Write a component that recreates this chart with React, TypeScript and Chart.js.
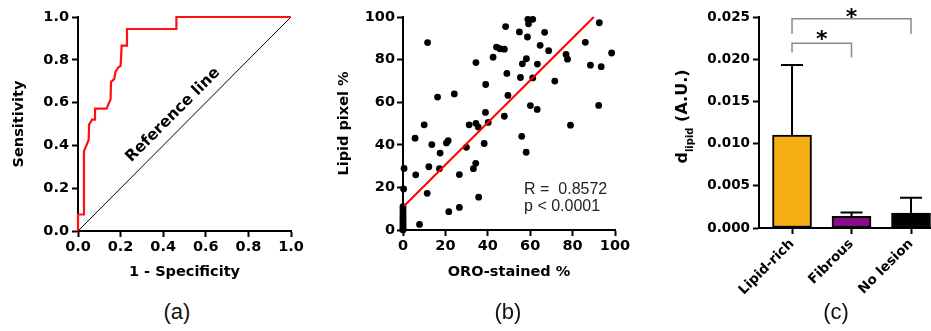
import React, { useEffect, useRef } from 'react';
import { Chart, registerables } from 'chart.js';

Chart.register(...registerables);

// ---------- data ----------
// (a) ROC curve
const rocFpr = [0, 0, 0.028, 0.028, 0.05, 0.052, 0.066, 0.08, 0.08, 0.134, 0.153, 0.155, 0.17, 0.176, 0.19, 0.2, 0.205, 0.23, 0.23, 0.462, 0.462, 1.0];
const rocTpr = [0, 0.077, 0.077, 0.373, 0.425, 0.497, 0.52, 0.52, 0.572, 0.572, 0.616, 0.697, 0.71, 0.745, 0.765, 0.772, 0.866, 0.866, 0.944, 0.944, 1.0, 1.0];
const refLineX = [0, 1];
const refLineY = [0, 1];
const rocTickStep = 0.2;

// (b) scatter
const scatterX = [
  11.6, 48.4, 58.9, 61.2, 59.2, 54.9, 66.8, 58.7, 44.1, 45.7, 47.8, 64.7, 68.7, 86.0, 92.6, 98.4,
  76.9, 77.6, 58.2, 56.3, 63.4, 88.4, 93.5, 42.5, 34.4, 49.0, 55.4, 61.2, 71.6, 39.0, 49.5, 24.2,
  16.3, 60.1, 63.3, 92.3, 38.9, 47.8, 79.0, 10.0, 31.2, 34.4, 35.5, 40.2, 5.7, 13.6, 20.5, 21.3,
  17.5, 29.9, 38.3, 34.3, 33.2, 26.6, 17.2, 12.2, 6.0, 0.5, 0.3, 11.4, 35.7, 26.6, 21.6, 7.8,
  56.0, 58.1,
  0, 0, 0, 0, 0, 0, 0, 0, 0, 0, 0, 0,
];
const scatterY = [
  88.0, 95.5, 98.9, 98.9, 96.8, 93.0, 92.8, 90.6, 85.9, 85.1, 84.9, 86.7, 84.2, 88.1, 97.3, 83.1,
  82.4, 80.2, 80.4, 78.0, 77.9, 77.4, 76.7, 81.1, 78.6, 73.5, 71.6, 71.4, 69.9, 68.3, 63.2, 63.9,
  62.4, 58.4, 56.6, 58.5, 55.2, 53.4, 49.2, 49.4, 49.4, 50.1, 48.3, 50.5, 43.1, 40.1, 40.9, 41.9,
  36.1, 38.8, 40.6, 31.3, 28.8, 26.0, 28.8, 29.7, 25.9, 28.9, 19.3, 17.2, 15.4, 10.6, 8.6, 2.6,
  44.0, 36.5,
  0, 0.8, 1.6, 2.5, 3.4, 4.4, 5.5, 6.5, 7.6, 8.8, 10.0, 11.0,
];
const fitX = [0.5, 90];
const fitY = [11.3, 100];
const statLines = ['R =  0.8572', 'p < 0.0001'];

// (c) bars
const barCategories = ['Lipid-rich', 'Fibrous', 'No lesion'];
const barMeans = [0.011, 0.00137, 0.00178];
const barSds = [0.0083, 0.00048, 0.0018];
const barColors = ['#F4B012', '#8B0A8B', '#000000'];
const sigStars = ['*', '*'];

const panelLabels = ['(a)', '(b)', '(c)'];

// ---------- styling helpers ----------
const FONT = '"DejaVu Sans", "Liberation Sans", sans-serif';
const SANS = '"Liberation Sans", Arial, sans-serif';
const bold = (size: number) => ({ family: FONT, size, weight: 'bold' as const });

function axisBase(extra: any) {
  return {
    offset: false,
    grid: { drawOnChartArea: false, offset: false, tickLength: 6, tickWidth: 2, tickColor: '#000' },
    border: { color: '#000', width: 2 },
    ...extra,
  };
}

const baseOptions = (padding: any) => ({
  animation: false,
  responsive: false,
  maintainAspectRatio: false,
  events: [],
  layout: { autoPadding: false, padding },
  plugins: { legend: { display: false }, tooltip: { enabled: false } },
});

const fixH = (h: number) => (s: any) => { s.height = h; s.paddingLeft = 0; s.paddingRight = 0; };
const fixW = (w: number) => (s: any) => { s.width = w; s.paddingTop = 0; s.paddingBottom = 0; };

// ---------- panel configs ----------
function configA(): any {
  const refLabelPlugin = {
    id: 'refLabel',
    afterDatasetsDraw(chart: any) {
      const { ctx, scales } = chart;
      const x = scales.x, y = scales.y;
      const ang = Math.atan2(y.getPixelForValue(1) - y.getPixelForValue(0), x.getPixelForValue(1) - x.getPixelForValue(0));
      ctx.save();
      ctx.translate(x.getPixelForValue(0.446), y.getPixelForValue(0.542));
      ctx.rotate(ang);
      ctx.font = `bold 15.5px ${FONT}`;
      ctx.fillStyle = '#000';
      ctx.textAlign = 'center';
      ctx.textBaseline = 'middle';
      ctx.fillText('Reference line', 0, 0);
      ctx.restore();
    },
  };
  return {
    type: 'scatter',
    data: {
      datasets: [
        { data: rocFpr.map((x, i) => ({ x, y: rocTpr[i] })), showLine: true, borderColor: '#ff1010', borderWidth: 2.2, pointRadius: 0, clip: false },
        { data: refLineX.map((x, i) => ({ x, y: refLineY[i] })), showLine: true, borderColor: '#000', borderWidth: 1, pointRadius: 0 },
      ],
    },
    options: {
      ...baseOptions({ left: 0, top: 17, right: 19, bottom: 0 }),
      scales: {
        x: axisBase({
          type: 'linear', min: 0, max: 1,
          afterFit: fixH(52),
          ticks: { stepSize: rocTickStep, callback: (v: any) => Number(v).toFixed(1), font: bold(14.5), color: '#000', padding: 2, maxRotation: 0, autoSkip: false },
          title: { display: true, text: '1 - Specificity', font: bold(14.5), color: '#000', padding: { top: 0, bottom: 2 } },
        }),
        y: axisBase({
          type: 'linear', min: 0, max: 1,
          afterFit: fixW(78),
          ticks: { stepSize: rocTickStep, callback: (v: any) => Number(v).toFixed(1), font: bold(14.5), color: '#000', padding: 3, autoSkip: false },
          title: { display: true, text: 'Sensitivity', font: bold(14.5), color: '#000', padding: { top: 11, bottom: 0 } },
        }),
      },
    },
    plugins: [refLabelPlugin],
  };
}

function configB(): any {
  const statPlugin = {
    id: 'stat',
    afterDatasetsDraw(chart: any) {
      const { ctx, scales } = chart;
      ctx.save();
      ctx.font = `16px ${SANS}`;
      ctx.fillStyle = '#222';
      ctx.textAlign = 'left';
      ctx.textBaseline = 'alphabetic';
      const x0 = scales.x.getPixelForValue(57.1);
      ctx.fillText(statLines[0], x0, scales.y.getPixelForValue(16.7));
      ctx.fillText(statLines[1], x0, scales.y.getPixelForValue(8.8));
      ctx.restore();
    },
  };
  return {
    type: 'scatter',
    data: {
      datasets: [
        { data: fitX.map((x, i) => ({ x, y: fitY[i] })), showLine: true, borderColor: '#ff0000', borderWidth: 2, pointRadius: 0, clip: false },
        { data: scatterX.map((x, i) => ({ x, y: scatterY[i] })), pointRadius: 3.4, pointBackgroundColor: '#000', pointBorderWidth: 0, borderColor: '#000', clip: false },
      ],
    },
    options: {
      ...baseOptions({ left: 0, top: 17, right: 15, bottom: 0 }),
      scales: {
        x: axisBase({
          type: 'linear', min: 0, max: 100,
          afterFit: fixH(53),
          ticks: { stepSize: 20, font: bold(14.5), color: '#000', padding: 2, maxRotation: 0, autoSkip: false },
          title: { display: true, text: 'ORO-stained %', font: bold(14.5), color: '#000', padding: { top: 0, bottom: 2 } },
        }),
        y: axisBase({
          type: 'linear', min: 0, max: 100,
          afterFit: fixW(73),
          ticks: { stepSize: 20, font: bold(14.5), color: '#000', padding: 2, autoSkip: false },
          title: { display: true, text: 'Lipid pixel %', font: bold(14.5), color: '#000', padding: { top: 6, bottom: 0 } },
        }),
      },
    },
    plugins: [statPlugin],
  };
}

function configC(): any {
  const annPlugin = {
    id: 'ann',
    afterDatasetsDraw(chart: any) {
      const { ctx, scales } = chart;
      const x = scales.x, y = scales.y;
      ctx.save();
      // error bars
      ctx.strokeStyle = '#000';
      ctx.lineWidth = 2;
      barMeans.forEach((m, i) => {
        const px = x.getPixelForValue(i);
        const top = y.getPixelForValue(m + barSds[i]);
        ctx.beginPath();
        ctx.moveTo(px, y.getPixelForValue(m));
        ctx.lineTo(px, top);
        ctx.moveTo(px - 11, top);
        ctx.lineTo(px + 11, top);
        ctx.stroke();
      });
      // brackets
      ctx.strokeStyle = '#8a8a8a';
      ctx.lineWidth = 1.5;
      const bracket = (i0: number, i1: number, h: number, d0: number, d1: number) => {
        ctx.beginPath();
        ctx.moveTo(x.getPixelForValue(i0), y.getPixelForValue(d0));
        ctx.lineTo(x.getPixelForValue(i0), y.getPixelForValue(h));
        ctx.lineTo(x.getPixelForValue(i1), y.getPixelForValue(h));
        ctx.lineTo(x.getPixelForValue(i1), y.getPixelForValue(d1));
        ctx.stroke();
      };
      bracket(0, 2, 0.0248, 0.0230, 0.0230);
      bracket(0, 1, 0.0219, 0.0208, 0.0202);
      ctx.fillStyle = '#000';
      ctx.font = `bold 22px ${FONT}`;
      ctx.textAlign = 'center';
      ctx.textBaseline = 'alphabetic';
      ctx.fillText(sigStars[0], (x.getPixelForValue(0) + x.getPixelForValue(2)) / 2, y.getPixelForValue(0.0255) + 11);
      ctx.fillText(sigStars[1], (x.getPixelForValue(0) + x.getPixelForValue(1)) / 2, y.getPixelForValue(0.0229) + 11);
      // y title with subscript
      const cy = (chart.chartArea.top + chart.chartArea.bottom) / 2 - 6;
      ctx.translate(47, cy);
      ctx.rotate(-Math.PI / 2);
      const mainF = `bold 16px ${FONT}`;
      const subF = `bold 10px ${FONT}`;
      ctx.font = mainF; const wd = ctx.measureText('d').width; const wr = ctx.measureText(' (A.U.)').width;
      ctx.font = subF; const ws = ctx.measureText('lipid').width;
      let xx = -(wd + ws + wr) / 2;
      ctx.textAlign = 'left';
      ctx.font = mainF; ctx.fillText('d', xx, 0); xx += wd;
      ctx.font = subF; ctx.fillText('lipid', xx, 6); xx += ws;
      ctx.font = mainF; ctx.fillText(' (A.U.)', xx, 0);
      ctx.restore();
    },
  };
  return {
    type: 'bar',
    data: {
      datasets: [
        {
          data: barMeans.map((m, i) => ({ x: i, y: m })),
          backgroundColor: barColors,
          borderColor: '#000',
          borderWidth: 2,
          borderSkipped: false,
          barThickness: 39,
        },
      ],
    },
    options: {
      ...baseOptions({ left: 0, top: 17, right: 0, bottom: 0 }),
      scales: {
        x: axisBase({
          type: 'linear', min: -0.555, max: 2.336,
          afterFit: fixH(72),
          afterBuildTicks: (s: any) => { s.ticks = barCategories.map((_, i) => ({ value: i })); },
          ticks: { callback: (v: any) => barCategories[v] ?? '', font: bold(13.5), color: '#000', padding: 2, minRotation: 45, maxRotation: 45, autoSkip: false },
        }),
        y: axisBase({
          type: 'linear', min: 0, max: 0.025,
          afterFit: fixW(119),
          ticks: { stepSize: 0.005, callback: (v: any) => Number(v).toFixed(3), font: bold(13.5), color: '#000', padding: 3, autoSkip: false },
        }),
      },
    },
    plugins: [annPlugin],
  };
}

function ChartCanvas({ make, left, top, width, height }: any) {
  const ref = useRef<HTMLCanvasElement>(null);
  useEffect(() => {
    const chart = new Chart(ref.current as HTMLCanvasElement, make());
    return () => chart.destroy();
  }, []);
  return (
    <canvas ref={ref} width={width} height={height} style={{ position: 'absolute', left, top, width, height }} />
  );
}

export default function App() {
  useEffect(() => {
    document.body.style.margin = '0';
  }, []);
  const labelPos = [177, 508, 836];
  return (
    <div style={{ position: 'relative', width: 931, height: 331, overflow: 'hidden', background: '#fff' }}>
      <ChartCanvas make={configA} left={0} top={0} width={310} height={283} />
      <ChartCanvas make={configB} left={330} top={0} width={300} height={283} />
      <ChartCanvas make={configC} left={640} top={0} width={291} height={300} />
      {panelLabels.map((t, i) => (
        <div key={t} style={{ position: 'absolute', left: labelPos[i] - 30, width: 60, top: 299, textAlign: 'center', font: `22px ${SANS}`, lineHeight: '26px', color: '#111' }}>
          {t}
        </div>
      ))}
    </div>
  );
}
